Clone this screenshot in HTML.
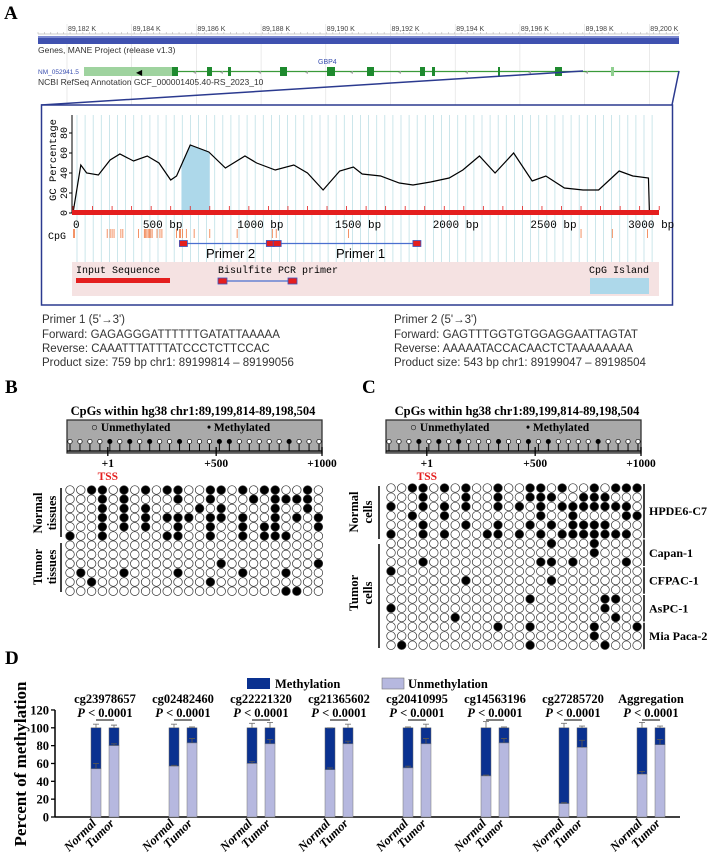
<!DOCTYPE html>
<html><head><meta charset="utf-8"><style>
html,body{margin:0;padding:0;background:#fff}
svg{display:block}
.sf{font-family:"Liberation Serif",serif;font-weight:bold}
.ss{font-family:"Liberation Sans",sans-serif}
.mo{font-family:"Liberation Mono",monospace}
</style></head><body>
<svg id="fig" width="708" height="856" viewBox="0 0 708 856" xmlns="http://www.w3.org/2000/svg">
<text x="4" y="19" class="sf" font-size="19">A</text>
<text x="5" y="393" class="sf" font-size="19">B</text>
<text x="362" y="393" class="sf" font-size="19">C</text>
<text x="5" y="664" class="sf" font-size="19">D</text>

<g id="ruler"></g>
<rect x="38" y="36" width="641" height="8" fill="#3f51b0"/>
<rect x="38" y="36" width="641" height="2" fill="#7d8ad0"/>
<text x="38" y="53" class="ss" font-size="8.5" fill="#333">Genes, MANE Project (release v1.3)</text>
<text x="318" y="64" class="ss" font-size="7" fill="#3a4fb0">GBP4</text>
<text x="38" y="74" class="ss" font-size="6.5" fill="#3a4fb0">NM_052941.5</text>
<text x="38" y="85" class="ss" font-size="8.5" fill="#333">NCBI RefSeq Annotation GCF_000001405.40-RS_2023_10</text>
<g id="gene"></g>
<polyline points="41,105 583,71" fill="none" stroke="#2b3a8f" stroke-width="1.5"/>
<polyline points="672,105 679,71" fill="none" stroke="#2b3a8f" stroke-width="1.5"/>
<rect x="41.5" y="105" width="631" height="200" fill="#fff" stroke="#2b3a8f" stroke-width="1.5"/>
<g id="gcchart"></g>

<g class="ss" font-size="11.5" fill="#333">
<text x="42" y="323">Primer 1  (5'→3')</text>
<text x="42" y="338">Forward:  GAGAGGGATTTTTTGATATTAAAAA</text>
<text x="42" y="352">Reverse:  CAAATTTATTTATCCCTCTTCCAC</text>
<text x="42" y="366">Product size: 759 bp chr1: 89199814 – 89199056</text>
</g>
<g class="ss" font-size="11.5" fill="#333">
<text x="394" y="323">Primer 2  (5'→3')</text>
<text x="394" y="338">Forward:  GAGTTTGGTGTGGAGGAATTAGTAT</text>
<text x="394" y="352">Reverse:  AAAAATACCACAACTCTAAAAAAAA</text>
<text x="394" y="366">Product size: 543 bp chr1:  89199047 – 89198504</text>
</g>

<g id="panelB"></g>
<g id="panelC"></g>
<g id="panelD"></g>
</svg>
<script>
const rulerLabels = ["89,182 K","89,184 K","89,186 K","89,188 K","89,190 K","89,192 K","89,194 K","89,196 K","89,198 K","89,200 K"];
const exonStarts = [172,207,228,280,327,367,420,432,498,555,611];
const exonEnds   = [178,212,231,287,335,374,425,435,500,562,614];
const gcBp  = [0,40,70,130,190,240,310,380,440,500,530,600,695,780,880,940,1035,1130,1200,1280,1365,1435,1480,1575,1670,1740,1830,1925,1995,2080,2160,2255,2350,2420,2515,2610,2690,2795,2865,2945,2950];
const gcVal = [0,48,40,38,53,59,52,57,50,33,37,68,61,45,57,50,43,48,40,23,42,46,39,37,30,28,31,35,43,57,40,60,32,37,25,23,23,42,37,35,0];
const gcTicks = [0,20,40,60,80];
const bpTicks = [0,500,1000,1500,2000,2500,3000];
const bpTickLabels = ["0","500 bp","1000 bp","1500 bp","2000 bp","2500 bp","3000 bp"];
const cpgSites = [2,8,175,190,200,210,245,255,335,365,370,378,385,392,398,405,430,445,455,530,545,550,560,580,620,700,840,1020,1040,1410,2600,2760,2940];
const islandStart = 555, islandEnd = 700;
const primer1 = [1045,1760];
const primer2 = [565,1010];

const methB = [
"001101010110011010110010",
"000101000010010001011110",
"000101010000101000010010",
"000101010111011010010101",
"000101010010010010110001",
"100100000110010010111000",
"000000000000000000000000",
"000000000000000000000000",
"000000000000001000000001",
"010001000010000010001000",
"001000000000010000000000",
"000000000000000000001100"];
const methC = [
"001101010010011010010111",
"000100010010011100111000",
"100101010010101011111110",
"001001000000001001000011",
"000100010010010101111000",
"100101000110101011111110",
"000000000000000100010000",
"000000000000000000010000",
"000100000000001101000010",
"100000000000000000000000",
"000000010000000100000000",
"000000000000000000000000",
"000000000000010000001100",
"100000000000000000001000",
"000000100000000000000100",
"000000000010010000010001",
"000000000000000000010000",
"010000000000010000001000"];
const lolliB = [0,0,0,0,1,0,1,0,1,0,0,1,0,0,0,1,1,0,0,0,0,0,1,0,0,0];
const lolliC = [0,0,0,1,0,1,0,1,0,0,0,1,0,0,1,0,1,0,0,0,0,1,0,0,0,0];

const dCategories = ["cg23978657","cg02482460","cg22221320","cg21365602","cg20410995","cg14563196","cg27285720","Aggregation"];
const normalUnmeth = [54,57,60,53,55,46,15,48];
const tumorUnmeth  = [80,83,82,82,82,83,78,81];
const normalTotalErr = [104,104,105,100,101,107,105,106];
const tumorTotalErr  = [103,101,106,104,104,101,102,102];
const normalUnmethErr = [60,58,62,55,57,47,16,51];
const tumorUnmethErr  = [82,88,87,85,88,88,86,87];
const dYTicks = [0,20,40,60,80,100,120];

const NS='http://www.w3.org/2000/svg';
function mk(tag, attrs, parent){const e=document.createElementNS(NS,tag);for(const k in attrs)e.setAttribute(k,attrs[k]);parent.appendChild(e);return e;}

const ruler=document.getElementById('ruler');
let base=mk('line',{x1:38,y1:34,x2:679,y2:34,stroke:'#999','stroke-width':0.6},ruler);


for(let k=0;k<=100;k++){const x=38+k*6.41;const t=mk('line',{x1:x,y1:32,x2:x,y2:34,stroke:'#aaa','stroke-width':0.5},ruler);

}
rulerLabels.forEach((s,i)=>{const x=67+i*64.7;
const g=mk('line',{x1:x,y1:24,x2:x,y2:120,stroke:'#ddd','stroke-width':0.6},ruler);


const t=mk('text',{x:x+1,y:31,'font-size':7,fill:'#444','font-family':'Liberation Sans, sans-serif'},ruler);t.textContent=s;

});

const gene=document.getElementById('gene');
let gl=mk('line',{x1:172,y1:71.5,x2:679,y2:71.5,stroke:'#3a9a3a','stroke-width':1.3},gene);


let utr=mk('rect',{x:84,y:67,width:88,height:9,fill:'#9fd39f'},gene);


let ar=mk('text',{x:136,y:75,'font-size':8,fill:'#000'},gene);ar.textContent='◀';


exonStarts.forEach((s,i)=>{const r=mk('rect',{x:s,y:67,width:exonEnds[i]-s,height:9,fill:i==10?'#8fcf8f':'#1e8a2e'},gene);

});
[193,220,258,305,350,398,465,528,585].forEach(x=>{const t=mk('text',{x:x,y:74,'font-size':6,fill:'#aaa'},gene);t.textContent='◂';

});

const gc=document.getElementById('gcchart');
const bx=bp=>73+bp*0.1954;
const gy=v=>213-v;
for(let x=77;x<659;x+=8.1){const l=mk('line',{x1:x,y1:115,x2:x,y2:262,stroke:'#bfe0e6','stroke-width':0.8},gc);

}
let pts=[];for(let i=0;i<gcBp.length;i++){if(gcBp[i]>=islandStart&&gcBp[i]<=islandEnd)pts.push(bx(gcBp[i])+','+gy(gcVal[i]));}
const vs=v=>{for(let i=1;i<gcBp.length;i++){if(gcBp[i]>=v){const f=(v-gcBp[i-1])/(gcBp[i]-gcBp[i-1]);return gcVal[i-1]+f*(gcVal[i]-gcVal[i-1]);}}return 0;};
const poly=[bx(islandStart)+','+gy(0),bx(islandStart)+','+gy(vs(islandStart))].concat(pts,[bx(islandEnd)+','+gy(vs(islandEnd)),bx(islandEnd)+','+gy(0)]);
let isl=mk('polygon',{points:poly.join(' '),fill:'#add8ea'},gc);


let ln=mk('polyline',{points:gcBp.map((b,i)=>bx(b)+','+gy(gcVal[i])).join(' '),fill:'none',stroke:'#000','stroke-width':1.2},gc);


let yax=mk('line',{x1:72,y1:115,x2:72,y2:213,stroke:'#000','stroke-width':1},gc);


gcTicks.forEach(v=>{const t=mk('line',{x1:69,y1:gy(v),x2:72,y2:gy(v),stroke:'#000'},gc);


const tx=mk('text',{x:0,y:0,transform:`translate(67,${gy(v)}) rotate(-90)`,'text-anchor':'middle','font-size':10,class:'mo'},gc);tx.textContent=v;

});
let yt=mk('text',{x:0,y:0,transform:'translate(56,160) rotate(-90)','text-anchor':'middle','font-size':10.5,class:'mo'},gc);yt.textContent='GC Percentage';


let rb=mk('rect',{x:72,y:210,width:587,height:5,fill:'#e41e1e'},gc);


for(let b=0;b<=3000;b+=100){const t=mk('line',{x1:bx(b),y1:206,x2:bx(b),y2:210,stroke:'#e41e1e','stroke-width':0.8},gc);

}
bpTicks.forEach((b,i)=>{const t=mk('text',{x:i==0?bx(b):bx(b)-8,y:228,'font-size':11,class:'mo','text-anchor':i==0?'start':'middle'},gc);t.textContent=bpTickLabels[i];

});
let cl=mk('text',{x:48,y:239,'font-size':10,class:'mo'},gc);cl.textContent='CpG';


cpgSites.forEach(b=>{const l=mk('line',{x1:bx(b),y1:229,x2:bx(b),y2:238,stroke:'#f07840','stroke-width':0.8},gc);

});
function primer(a,b,name,label,lx){const l=mk('line',{x1:bx(a),y1:243.5,x2:bx(b),y2:243.5,stroke:'#4a6fd0','stroke-width':1.3},gc);


[a,b].forEach(p=>{const r=mk('rect',{x:bx(p)-4,y:240.5,width:8,height:6,fill:'#e41e1e',stroke:'#3a56c0','stroke-width':0.8},gc);

});
const t=mk('text',{x:lx,y:258,'font-size':13,class:'ss'},gc);t.textContent=label;

}
primer(primer2[0],primer2[1],'primer-2','Primer 2',206);
primer(primer1[0],primer1[1],'primer-1','Primer 1',336);
let lg=mk('rect',{x:72,y:262,width:587,height:34,fill:'#f5e2e2'},gc);


[['Input Sequence',76,'legend-input-label'],['Bisulfite PCR primer',218,'legend-primer-label'],['CpG Island',589,'legend-island-label']].forEach(a=>{const t=mk('text',{x:a[1],y:273,'font-size':10,class:'mo'},gc);t.textContent=a[0];

});
let r1=mk('rect',{x:76,y:278,width:94,height:5,fill:'#e41e1e'},gc);


let pl=mk('line',{x1:222,y1:281,x2:292,y2:281,stroke:'#4a6fd0','stroke-width':1.3},gc);


[218,288].forEach(x=>{const r=mk('rect',{x:x,y:278,width:9,height:6,fill:'#e41e1e',stroke:'#3a56c0','stroke-width':0.8},gc);

});
let ib=mk('rect',{x:590,y:278,width:59,height:16,fill:'#add8ea'},gc);



function lollipop(g,x0,x1,lolli,cx){
const t=mk('text',{x:cx,y:415,'text-anchor':'middle','font-size':12.5,class:'sf'},g);t.textContent='CpGs within hg38 chr1:89,199,814-89,198,504';


const b=mk('rect',{x:x0,y:420,width:x1-x0,height:33,fill:'#a9a9a9',stroke:'#333','stroke-width':1.3},g);


const lu=mk('text',{x:x0+24,y:431,'font-size':11.5,class:'sf'},g);lu.textContent='○ Unmethylated';


const lm=mk('text',{x:x0+140,y:431,'font-size':11.5,class:'sf'},g);lm.textContent='• Methylated';


const bl=mk('line',{x1:x0,y1:451,x2:x1,y2:451,stroke:'#000','stroke-width':1.2},g);


const n=lolli.length,sp=(x1-x0-6)/(n-1);
lolli.forEach((f,i)=>{const x=x0+3+i*sp;
const s=mk('line',{x1:x,y1:443,x2:x,y2:451,stroke:'#000','stroke-width':1},g);


const c=mk('circle',{cx:x,cy:441.5,r:2.2,fill:f?'#000':'#fff',stroke:'#000','stroke-width':0.7},g);

});
[[0.16,'+1'],[0.585,'+500'],[1,'+1000']].forEach(a=>{const x=x0+(x1-x0)*a[0];
const tk=mk('line',{x1:x,y1:447,x2:x,y2:456,stroke:'#000','stroke-width':1.3},g);


const tl=mk('text',{x:x,y:467,'text-anchor':'middle','font-size':11.5,class:'sf'},g);tl.textContent=a[1];

});
const ts=mk('text',{x:x0+(x1-x0)*0.16,y:480,'text-anchor':'middle','font-size':11.5,class:'sf',fill:'#e42020'},g);ts.textContent='TSS';

}
function grid(g,rows,x0,y0,dx,dy){rows.forEach((r,ri)=>{for(let ci=0;ci<r.length;ci++){const c=mk('circle',{cx:x0+ci*dx,cy:y0+ri*dy,r:4.3,fill:r[ci]=='1'?'#000':'#fff',stroke:'#333','stroke-width':0.7},g);

}});}
function vlab(g,x,y,l1,l2,name){const t=mk('text',{transform:`translate(${x},${y}) rotate(-90)`,'text-anchor':'middle','font-size':12.5,class:'sf'},g);
const a=mk('tspan',{x:0,dy:0},t);a.textContent=l1;const b=mk('tspan',{x:0,dy:14},t);b.textContent=l2;

}
function vline(g,x,y1,y2,name){const l=mk('line',{x1:x,y1:y1,x2:x,y2:y2,stroke:'#000','stroke-width':1.5},g);

}
const pB=document.getElementById('panelB');
lollipop(pB,67,322,lolliB,193);
grid(pB,methB,70,490,10.8,9.2);
vline(pB,61,488,537,'normal-group-bar');vline(pB,61,543,592,'tumor-group-bar');
vlab(pB,42,513,'Normal','tissues','normal-tissues-label');
vlab(pB,42,567,'Tumor','tissues','tumor-tissues-label');
const pC=document.getElementById('panelC');
lollipop(pC,386,641,lolliC,517);
grid(pC,methC,391,488,10.7,9.25);
vline(pC,379,486,539,'normal-group-bar');vline(pC,379,544,648,'tumor-group-bar');
vlab(pC,358,512,'Normal','cells','normal-cells-label');
vlab(pC,358,593,'Tumor','cells','tumor-cells-label');
const cellGroups=[['HPDE6-C7',0,6],['Capan-1',6,9],['CFPAC-1',9,12],['AsPC-1',12,15],['Mia Paca-2',15,18]];
cellGroups.forEach(gp=>{vline(pC,644,488+gp[1]*9.25-4,488+(gp[2]-1)*9.25+4,'cell-line-bar');
const t=mk('text',{x:649,y:488+((gp[1]+gp[2]-1)/2)*9.25+4,'font-size':12,class:'sf'},pC);t.textContent=gp[0];

});

const pD=document.getElementById('panelD');
const dy=v=>817-v*0.892;
const METH='#0a3190',UNM='#b6b8df';
let s1=mk('rect',{x:247,y:678,width:23,height:11,fill:METH},pD);


let t1=mk('text',{x:275,y:688,'font-size':12.5,class:'sf'},pD);t1.textContent='Methylation';


let s2=mk('rect',{x:382,y:678,width:22,height:11,fill:UNM,stroke:'#777','stroke-width':0.6},pD);


let t2=mk('text',{x:408,y:688,'font-size':12.5,class:'sf'},pD);t2.textContent='Unmethylation';


let ya=mk('line',{x1:55,y1:dy(120),x2:55,y2:817,stroke:'#000','stroke-width':1.5},pD);


let xa=mk('line',{x1:55,y1:817,x2:680,y2:817,stroke:'#000','stroke-width':1.5},pD);


dYTicks.forEach(v=>{const t=mk('line',{x1:51,y1:dy(v),x2:55,y2:dy(v),stroke:'#000','stroke-width':1.3},pD);


const l=mk('text',{x:49,y:dy(v)+4.5,'text-anchor':'end','font-size':12.5,class:'sf'},pD);l.textContent=v;

});
let yTitle=mk('text',{transform:'translate(26,764) rotate(-90)','text-anchor':'middle','font-size':17,class:'sf'},pD);yTitle.textContent='Percent of methylation';


function bar(x,unm,errTot,errUnm,name){
const top=mk('rect',{x:x,y:dy(100),width:10,height:dy(unm)-dy(100),fill:METH,stroke:'#666','stroke-width':0.5},pD);


const bot=mk('rect',{x:x,y:dy(unm),width:10,height:817-dy(unm),fill:UNM,stroke:'#777','stroke-width':0.5},pD);


[[100,errTot,'#777'],[unm,errUnm,'#555']].forEach(e=>{const l=mk('path',{d:`M${x+5},${dy(e[0])}V${dy(e[1])}M${x+2},${dy(e[1])}H${x+8}`,stroke:e[2],'stroke-width':0.9,fill:'none'},pD);

});}
dCategories.forEach((c,i)=>{const xn=91+i*78,xt=xn+18;
bar(xn,normalUnmeth[i],normalTotalErr[i],normalUnmethErr[i],'bar-normal');
bar(xt,tumorUnmeth[i],tumorTotalErr[i],tumorUnmethErr[i],'bar-tumor');
const cx=xn+14;
const ct=mk('text',{x:cx,y:703,'text-anchor':'middle','font-size':12.5,class:'sf'},pD);ct.textContent=c;


const pt=mk('text',{x:cx,y:717,'text-anchor':'middle','font-size':12.5,class:'sf'},pD);
const it=mk('tspan',{'font-style':'italic'},pt);it.textContent='P';const r=mk('tspan',{},pt);r.textContent=' < 0.0001';


const sl=mk('line',{x1:xn+5,y1:720,x2:xt+5,y2:720,stroke:'#000','stroke-width':1},pD);


[['Normal',xn+6],['Tumor',xt+6]].forEach(a=>{const t=mk('text',{transform:`translate(${a[1]},824) rotate(-45)`,'text-anchor':'end','font-size':12.5,class:'sf','font-style':'italic'},pD);t.textContent=a[0];

});});
</script>
</body></html>
